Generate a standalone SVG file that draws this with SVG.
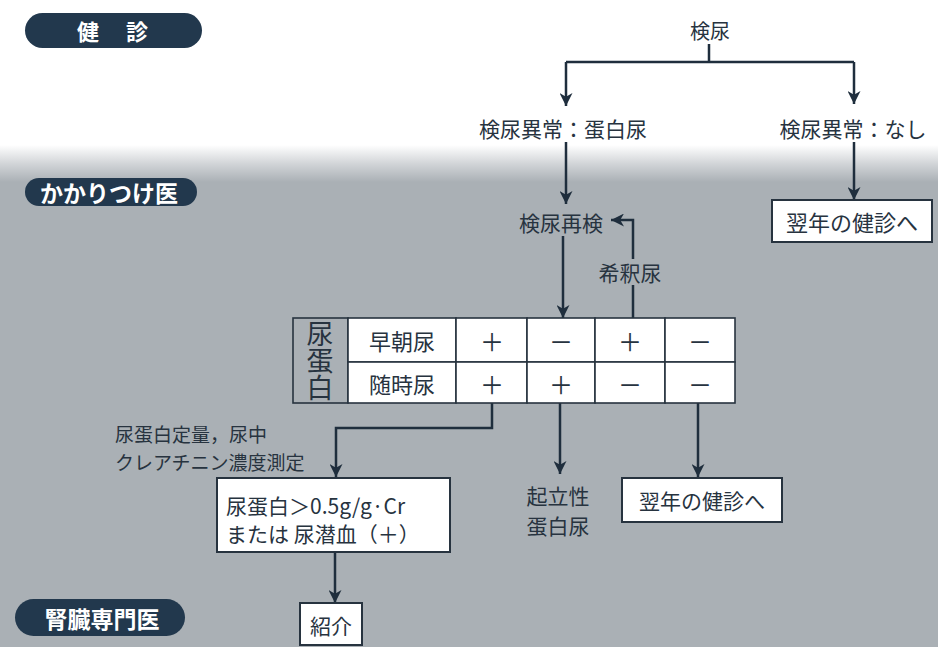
<svg xmlns="http://www.w3.org/2000/svg" width="938" height="647" viewBox="0 0 938 647">
<style>
.t{font-family:"Noto Sans CJK JP","Noto Sans",sans-serif;fill:#27333f;dominant-baseline:central;text-anchor:middle}
.pt{font-family:"Noto Sans CJK JP","Noto Sans",sans-serif;fill:#ffffff;font-weight:bold;dominant-baseline:central;text-anchor:middle}
.pill{fill:#22384d}
.box{fill:#ffffff;stroke:#27333f;stroke-width:2}
.ln{fill:none;stroke:#1f2e3d;stroke-width:2.5}
.cell{fill:#ffffff;stroke:#27333f;stroke-width:1.6}
</style>
<defs>
<linearGradient id="bg" x1="0" y1="145" x2="0" y2="182" gradientUnits="userSpaceOnUse">
<stop offset="0" stop-color="#ffffff"/>
<stop offset="0.5" stop-color="#d2d5d8"/>
<stop offset="1" stop-color="#aab0b5"/>
</linearGradient>
<marker id="ah" viewBox="0 0 12 12" refX="12" refY="6" markerWidth="13" markerHeight="13" markerUnits="userSpaceOnUse" orient="auto">
<path d="M0,0 L12,6 L0,12 L3.5,6 z" fill="#1f2e3d"/>
</marker>
</defs>
<rect x="0" y="0" width="938" height="647" fill="url(#bg)"/>

<g id="pill-kenshin"><rect class="pill" x="25" y="13" width="177" height="35" rx="17.5"/><text class="pt" x="88" y="30" font-size="22">健</text><text class="pt" x="137" y="30" font-size="22">診</text></g>
<g id="pill-kakaritsuke"><rect class="pill" x="25" y="178" width="172" height="28" rx="14"/><text class="pt" x="109" y="192" font-size="23">かかりつけ医</text></g>
<g id="pill-jinzo"><rect class="pill" x="15" y="599" width="170" height="37" rx="18.5"/><text class="pt" x="102" y="618" font-size="23">腎臓専門医</text></g>

<g id="connectors">
<path class="ln" d="M709,44 V62 M566,62 H854"/>
<path class="ln" d="M566,62 V106" marker-end="url(#ah)"/>
<path class="ln" d="M854,62 V104" marker-end="url(#ah)"/>
<path class="ln" d="M566,142 V204" marker-end="url(#ah)"/>
<path class="ln" d="M854,142 V200" marker-end="url(#ah)"/>
<path class="ln" d="M563,236 V318" marker-end="url(#ah)"/>
<path class="ln" d="M633,318 V220 H611" marker-end="url(#ah)"/>
<path class="ln" d="M492,403 V428 H336 V477" marker-end="url(#ah)"/>
<path class="ln" d="M560,403 V474" marker-end="url(#ah)"/>
<path class="ln" d="M698,403 V477" marker-end="url(#ah)"/>
<path class="ln" d="M335,552 V603" marker-end="url(#ah)"/>
</g>

<g id="n-kennyo"><text class="t" x="710" y="30" font-size="20">検尿</text></g>
<g id="n-ijou-tanpaku"><text class="t" x="563" y="128" font-size="21">検尿異常：蛋白尿</text></g>
<g id="n-ijou-nashi"><text class="t" x="853" y="128" font-size="21">検尿異常：なし</text></g>
<g id="n-saiken"><text class="t" x="561" y="222" font-size="21">検尿再検</text></g>
<g id="n-yokunen1"><rect class="box" x="772" y="200" width="160" height="42"/><text class="t" x="852" y="221" font-size="22">翌年の健診へ</text></g>
<g id="n-kishaku"><rect x="596" y="259" width="68" height="26" fill="#aab0b5"/><text class="t" x="630" y="272" font-size="21">希釈尿</text></g>

<g id="n-table">
<rect x="293" y="318" width="55" height="85" fill="#aab0b5" stroke="#27333f" stroke-width="1.6"/>
<text class="t" x="320" y="361" font-size="27" writing-mode="vertical-rl">尿蛋白</text>
<rect class="cell" x="348" y="318" width="108" height="44"/>
<rect class="cell" x="456" y="318" width="71" height="44"/>
<rect class="cell" x="527" y="318" width="68" height="44"/>
<rect class="cell" x="595" y="318" width="70" height="44"/>
<rect class="cell" x="665" y="318" width="70" height="44"/>
<rect class="cell" x="348" y="362" width="108" height="41"/>
<rect class="cell" x="456" y="362" width="71" height="41"/>
<rect class="cell" x="527" y="362" width="68" height="41"/>
<rect class="cell" x="595" y="362" width="70" height="41"/>
<rect class="cell" x="665" y="362" width="70" height="41"/>
<text class="t" x="402" y="340" font-size="22">早朝尿</text>
<text class="t" x="402" y="383" font-size="22">随時尿</text>
<text class="t" x="492" y="340" font-size="24">＋</text>
<text class="t" x="561" y="340" font-size="24">－</text>
<text class="t" x="630" y="340" font-size="24">＋</text>
<text class="t" x="700" y="340" font-size="24">－</text>
<text class="t" x="492" y="383" font-size="24">＋</text>
<text class="t" x="561" y="383" font-size="24">＋</text>
<text class="t" x="630" y="383" font-size="24">－</text>
<text class="t" x="700" y="383" font-size="24">－</text>
</g>

<g id="n-teiryo"><text class="t" x="115" y="433" font-size="19" style="text-anchor:start">尿蛋白定量，尿中</text><text class="t" x="115" y="461" font-size="19" style="text-anchor:start">クレアチニン濃度測定</text></g>
<g id="n-criteria"><rect class="box" x="217" y="478" width="233" height="74"/><text class="t" x="226" y="505" font-size="21" style="text-anchor:start">尿蛋白＞0.5g/g·Cr</text><text class="t" x="226" y="533" font-size="21" style="text-anchor:start">または 尿潜血（＋）</text></g>
<g id="n-kiritsu"><text class="t" x="558" y="495" font-size="21">起立性</text><text class="t" x="558" y="525" font-size="21">蛋白尿</text></g>
<g id="n-yokunen2"><rect class="box" x="622" y="478" width="160" height="44"/><text class="t" x="702" y="500" font-size="21">翌年の健診へ</text></g>
<g id="n-shokai"><rect class="box" x="300" y="603" width="62" height="42"/><text class="t" x="331" y="625" font-size="21">紹介</text></g>
</svg>
